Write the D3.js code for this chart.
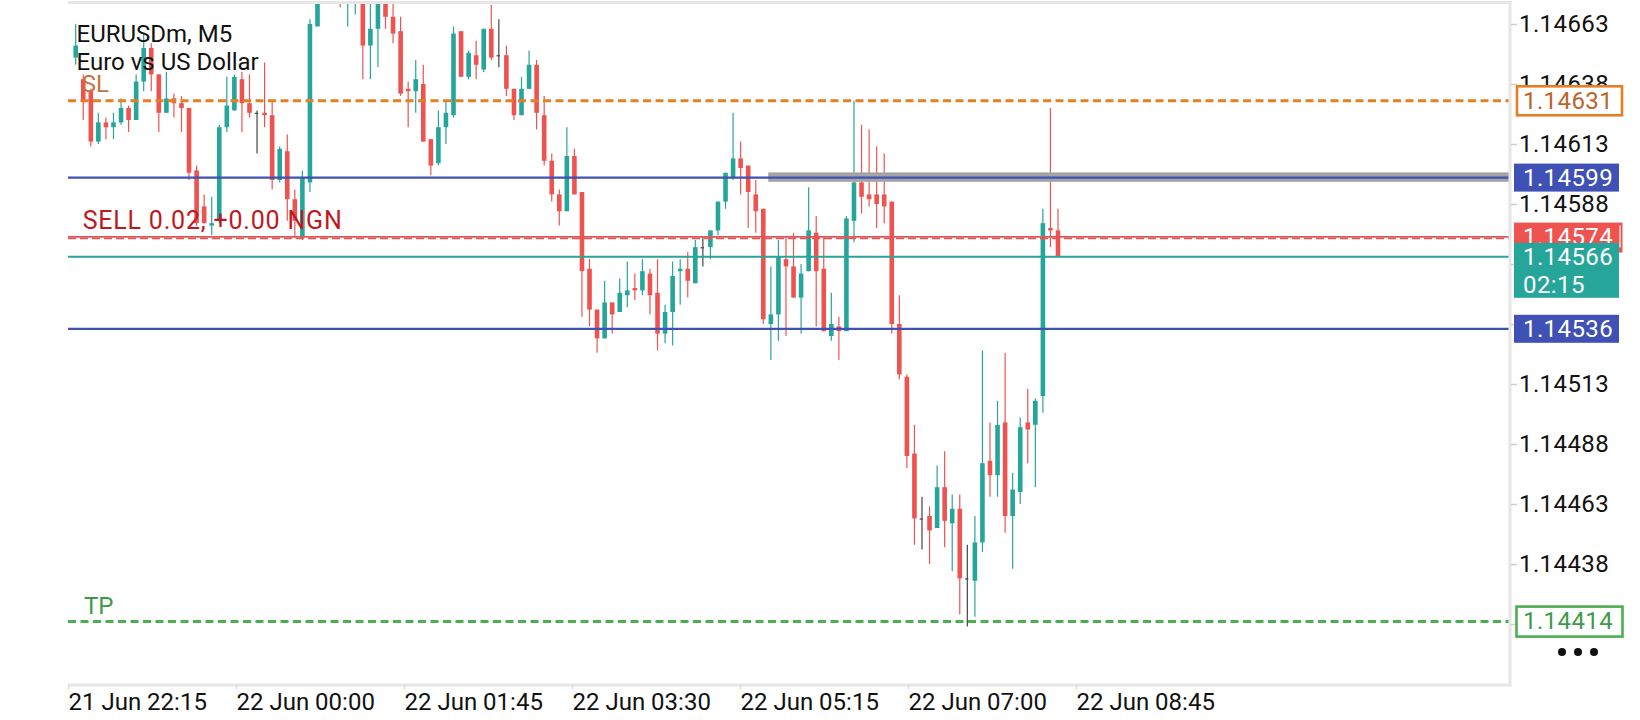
<!DOCTYPE html>
<html>
<head>
<meta charset="utf-8">
<script src="https://cdn.jsdelivr.net/npm/d3@7"></script>
<style>
  html, body { margin: 0; padding: 0; background: #fff; }
  svg text { font-family: Roboto, "Noto Sans", sans-serif; }
</style>
</head>
<body>
<svg id="chart" width="1640" height="720"></svg>
<script>
// M5 bars, oldest first
const opens = [
  1.14649, 1.14640, 1.14635, 1.14614, 1.14622, 1.14620, 1.14622, 1.14628, 1.14623, 1.14639,
  1.14653, 1.14642, 1.14626, 1.14632, 1.14630, 1.14628, 1.14602, 1.14587, 1.14579, 1.14581,
  1.14620, 1.14627, 1.14640, 1.14630, 1.14626, 1.14626, 1.14625, 1.14598, 1.14610, 1.14590,
  1.14574, 1.14597, 1.14662, 1.14675, 1.14685, 1.14680, 1.14674, 1.14676, 1.14688, 1.14654,
  1.14661, 1.14675, 1.14666, 1.14660, 1.14636, 1.14635, 1.14638, 1.14615, 1.14605, 1.14620,
  1.14625, 1.14660, 1.14641, 1.14650, 1.14644, 1.14661, 1.14650, 1.14650, 1.14636, 1.14625,
  1.14636, 1.14646, 1.14625, 1.14606, 1.14592, 1.14585, 1.14608, 1.14593, 1.14561, 1.14544,
  1.14532, 1.14547, 1.14543, 1.14550, 1.14553, 1.14552, 1.14559, 1.14551, 1.14534, 1.14543,
  1.14560, 1.14561, 1.14555, 1.14570, 1.14570, 1.14577, 1.14589, 1.14599, 1.14607, 1.14604,
  1.14592, 1.14586, 1.14538, 1.14542, 1.14565, 1.14562, 1.14549, 1.14560, 1.14576, 1.14561,
  1.14533, 1.14537, 1.14535, 1.14581, 1.14597, 1.14592, 1.14592, 1.14592, 1.14589, 1.14538,
  1.14516, 1.14484, 1.14457, 1.14458, 1.14453, 1.14470, 1.14455, 1.14461, 1.14432, 1.14431,
  1.14447, 1.14481, 1.14475, 1.14497, 1.14458, 1.14468, 1.14497, 1.14496, 1.14508, 1.14578,
  1.14577
];
const highs = [
  1.14663, 1.14642, 1.14636, 1.14626, 1.14624, 1.14626, 1.14632, 1.14629, 1.14642, 1.14659,
  1.14655, 1.14642, 1.14643, 1.14634, 1.14633, 1.14628, 1.14604, 1.14592, 1.14591, 1.14621,
  1.14641, 1.14642, 1.14643, 1.14642, 1.14627, 1.14647, 1.14631, 1.14612, 1.14617, 1.14594,
  1.14602, 1.14665, 1.14678, 1.14690, 1.14692, 1.14683, 1.14688, 1.14693, 1.14690, 1.14673,
  1.14679, 1.14677, 1.14672, 1.14666, 1.14639, 1.14648, 1.14646, 1.14615, 1.14627, 1.14631,
  1.14662, 1.14660, 1.14652, 1.14656, 1.14661, 1.14671, 1.14665, 1.14654, 1.14636, 1.14641,
  1.14652, 1.14648, 1.14633, 1.14609, 1.14594, 1.14620, 1.14611, 1.14593, 1.14565, 1.14544,
  1.14556, 1.14547, 1.14557, 1.14564, 1.14559, 1.14565, 1.14561, 1.14565, 1.14546, 1.14564,
  1.14565, 1.14568, 1.14573, 1.14574, 1.14577, 1.14589, 1.14601, 1.14626, 1.14614, 1.14604,
  1.14598, 1.14586, 1.14562, 1.14573, 1.14574, 1.14576, 1.14563, 1.14595, 1.14583, 1.14574,
  1.14551, 1.14541, 1.14583, 1.14631, 1.14621, 1.14619, 1.14612, 1.14609, 1.14589, 1.14550,
  1.14517, 1.14496, 1.14466, 1.14462, 1.14479, 1.14485, 1.14467, 1.14467, 1.14446, 1.14458,
  1.14527, 1.14497, 1.14506, 1.14526, 1.14476, 1.14499, 1.14511, 1.14507, 1.14586, 1.14628,
  1.14586
];
const lows = [
  1.14646, 1.14623, 1.14612, 1.14613, 1.14615, 1.14615, 1.14621, 1.14618, 1.14623, 1.14635,
  1.14635, 1.14618, 1.14626, 1.14624, 1.14618, 1.14598, 1.14579, 1.14580, 1.14575, 1.14580,
  1.14618, 1.14627, 1.14618, 1.14624, 1.14609, 1.14620, 1.14594, 1.14597, 1.14581, 1.14574,
  1.14573, 1.14593, 1.14662, 1.14673, 1.14676, 1.14670, 1.14662, 1.14667, 1.14640, 1.14640,
  1.14645, 1.14661, 1.14655, 1.14633, 1.14620, 1.14626, 1.14614, 1.14600, 1.14604, 1.14613,
  1.14624, 1.14641, 1.14640, 1.14640, 1.14643, 1.14648, 1.14645, 1.14633, 1.14623, 1.14625,
  1.14636, 1.14619, 1.14604, 1.14589, 1.14579, 1.14585, 1.14592, 1.14541, 1.14537, 1.14526,
  1.14532, 1.14534, 1.14543, 1.14545, 1.14548, 1.14550, 1.14542, 1.14527, 1.14530, 1.14529,
  1.14546, 1.14549, 1.14555, 1.14562, 1.14565, 1.14575, 1.14586, 1.14598, 1.14592, 1.14578,
  1.14576, 1.14538, 1.14523, 1.14531, 1.14533, 1.14549, 1.14534, 1.14560, 1.14537, 1.14535,
  1.14531, 1.14523, 1.14535, 1.14572, 1.14584, 1.14587, 1.14578, 1.14580, 1.14534, 1.14515,
  1.14478, 1.14446, 1.14444, 1.14438, 1.14453, 1.14445, 1.14435, 1.14417, 1.14412, 1.14416,
  1.14443, 1.14466, 1.14466, 1.14451, 1.14436, 1.14463, 1.14480, 1.14470, 1.14501, 1.14570,
  1.14566
];
const closes = [
  1.14654, 1.14631, 1.14614, 1.14622, 1.14620, 1.14622, 1.14628, 1.14623, 1.14639, 1.14653,
  1.14642, 1.14626, 1.14632, 1.14630, 1.14628, 1.14601, 1.14580, 1.14580, 1.14580, 1.14620,
  1.14629, 1.14641, 1.14630, 1.14626, 1.14626, 1.14625, 1.14598, 1.14611, 1.14590, 1.14581,
  1.14599, 1.14663, 1.14675, 1.14685, 1.14680, 1.14674, 1.14684, 1.14690, 1.14654, 1.14661,
  1.14675, 1.14666, 1.14659, 1.14634, 1.14635, 1.14640, 1.14614, 1.14604, 1.14620, 1.14626,
  1.14659, 1.14641, 1.14651, 1.14646, 1.14661, 1.14649, 1.14650, 1.14636, 1.14625, 1.14636,
  1.14646, 1.14626, 1.14606, 1.14592, 1.14585, 1.14608, 1.14592, 1.14560, 1.14544, 1.14532,
  1.14547, 1.14542, 1.14551, 1.14552, 1.14552, 1.14560, 1.14550, 1.14534, 1.14543, 1.14558,
  1.14561, 1.14556, 1.14570, 1.14570, 1.14577, 1.14589, 1.14601, 1.14607, 1.14603, 1.14593,
  1.14585, 1.14540, 1.14542, 1.14566, 1.14562, 1.14549, 1.14559, 1.14577, 1.14560, 1.14535,
  1.14538, 1.14535, 1.14582, 1.14597, 1.14591, 1.14590, 1.14588, 1.14587, 1.14538, 1.14517,
  1.14483, 1.14457, 1.14457, 1.14452, 1.14470, 1.14456, 1.14461, 1.14432, 1.14432, 1.14447,
  1.14480, 1.14475, 1.14496, 1.14458, 1.14469, 1.14495, 1.14494, 1.14506, 1.14580, 1.14577,
  1.14566
];

const timeLabels = ["21 Jun 22:15", "22 Jun 00:00", "22 Jun 01:45", "22 Jun 03:30",
                    "22 Jun 05:15", "22 Jun 07:00", "22 Jun 08:45"];
const priceTicks = [1.14663, 1.14638, 1.14613, 1.14588, 1.14563, 1.14538,
                    1.14513, 1.14488, 1.14463, 1.14438, 1.14413];

// trade levels
const slPrice = 1.14631;
const tpPrice = 1.14414;
const entryPrice = 1.14574;
const bidPrice = 1.14566;
const upperLevel = 1.14599;
const lowerLevel = 1.14536;
const titleLines = ["EURUSDm, M5", "Euro vs US Dollar"];
const orderText = "SELL 0.02, +0.00 NGN";
const barTimer = "02:15";

// layout
const W = 1640, H = 720;
const plot = { left: 68, right: 1510, top: 4, bottom: 685 };
const bull = "#26a69a", bear = "#ef5350", dojiCol = "#444";
const blue = "#3f51b5", orange = "#e67e22", green = "#4caf50";

const svg = d3.select("#chart");
svg.append("rect").attr("width", W).attr("height", H).attr("fill", "#fff");

const y = d3.scaleLinear().domain([priceTicks[0], priceTicks[priceTicks.length - 1]]).range([24, 624]);
const x = d3.scaleLinear().domain([0, closes.length - 1]).range([75.7, 1058]);
const xt = d3.scalePoint().domain(timeLabels).range([68, 1076]);

svg.append("defs").append("clipPath").attr("id", "clip")
  .append("rect")
  .attr("x", plot.left).attr("y", plot.top)
  .attr("width", plot.right - plot.left).attr("height", plot.bottom - plot.top);

const g = svg.append("g").attr("clip-path", "url(#clip)");

const bars = closes.map((c, i) => ({ i, o: opens[i], h: highs[i], l: lows[i], c }));
const colorOf = d => d.c > d.o ? bull : (d.c < d.o ? bear : dojiCol);
const bw = 4.6;

// candles
g.selectAll("line.wick").data(bars).join("line")
  .attr("class", "wick")
  .attr("x1", d => x(d.i)).attr("x2", d => x(d.i))
  .attr("y1", d => y(d.h)).attr("y2", d => y(d.l))
  .attr("stroke", colorOf).attr("stroke-width", 1.2);

g.selectAll("rect.body").data(bars).join("rect")
  .attr("class", "body")
  .attr("x", d => x(d.i) - bw / 2)
  .attr("y", d => y(Math.max(d.o, d.c)))
  .attr("width", d => d.o === d.c ? 3.4 : bw)
  .attr("height", d => Math.max(1.2, Math.abs(y(d.o) - y(d.c))))
  .attr("fill", colorOf);

// level lines
function hline(price, color, w, dash, dy = 0) {
  g.append("line")
    .attr("x1", plot.left).attr("x2", plot.right)
    .attr("y1", y(price) + dy).attr("y2", y(price) + dy)
    .attr("stroke", color).attr("stroke-width", w)
    .attr("stroke-dasharray", dash);
}
hline(slPrice, orange, 3, "8,4.5");
g.append("rect")
  .attr("x", x(91.65)).attr("width", plot.right - x(91.65))
  .attr("y", y(upperLevel) - 5.2).attr("height", 9.4)
  .attr("fill", "#a3a3a3");
hline(upperLevel, blue, 2.3, null);
hline(entryPrice, "#e25555", 1.7, null, -0.8);
hline(entryPrice, "#e25555", 1.7, "8,4", 0.9);
hline(bidPrice, bull, 2, null);
hline(lowerLevel, blue, 2.3, null);
hline(tpPrice, green, 3, "8,4.5");

// frame
const frame = svg.append("g").attr("stroke", "#e6e6e6").attr("stroke-width", 3);
frame.append("line").attr("x1", plot.left).attr("x2", plot.right + 1.5).attr("y1", 2.5).attr("y2", 2.5);
frame.append("line").attr("x1", plot.right).attr("x2", plot.right).attr("y1", 1).attr("y2", plot.bottom + 1.5);
frame.append("line").attr("x1", plot.left).attr("x2", plot.right + 1.5).attr("y1", plot.bottom).attr("y2", plot.bottom);

// price tags on the right: [price, top offset, height]
const tagSpans = [
  [slPrice, -14.5, 29], [upperLevel, -14, 28], [entryPrice, -15, 30],
  [bidPrice, -14, 55], [lowerLevel, -14, 28], [tpPrice, -15, 30]
];
const hiddenByTag = p => tagSpans.some(([tp, off, h]) => {
  const t = y(tp) + off;
  return y(p) - 8 > t && y(p) + 8 < t + h;
});

// price axis (labels fully covered by a tag are left out, as in the app)
const yAxis = svg.append("g")
  .attr("transform", `translate(${plot.right + 1},0)`)
  .call(d3.axisRight(y).tickValues(priceTicks).tickSize(6).tickPadding(2)
    .tickFormat(d => hiddenByTag(d) ? "" : d.toFixed(5)));
yAxis.select(".domain").remove();
yAxis.selectAll(".tick line").attr("stroke", "#cfcfcf").attr("stroke-width", 1.5);
yAxis.selectAll(".tick text")
  .attr("fill", "#111").attr("font-size", 24).attr("letter-spacing", 0.4);
yAxis.selectAll(".tick text").filter(function () { return this.textContent === ""; }).remove();

// time axis
const xAxis = svg.append("g")
  .attr("transform", `translate(0,${plot.bottom})`)
  .call(d3.axisBottom(xt).tickSize(4).tickFormat(d => d));
xAxis.select(".domain").remove();
xAxis.selectAll(".tick line").attr("stroke", "#dcdcdc").attr("stroke-width", 1.5);
xAxis.selectAll(".tick text")
  .attr("fill", "#111").attr("font-size", 24)
  .attr("text-anchor", "start").attr("dy", null)
  .attr("x", 0).attr("y", 25);

// chart texts
const txt = svg.append("g").attr("font-size", 24);
txt.append("text").attr("x", 81.7).attr("y", 91.7).attr("fill", "#c0763c").text("SL");
txt.append("text").attr("x", 84).attr("y", 613.5).attr("fill", "#3a9a48").text("TP");
txt.append("text").attr("x", 82.7).attr("y", 228.5).attr("fill", "#c0181f")
  .attr("font-size", 25).attr("letter-spacing", 0.8).text(orderText);
txt.selectAll("text.title").data(titleLines).join("text")
  .attr("class", "title")
  .attr("x", 76.5).attr("y", (d, i) => 41.7 + i * 27.8)
  .attr("fill", "#111").text(d => d);

const tags = svg.append("g").attr("font-size", 24).attr("letter-spacing", 0.4);
function tag(span, fill, stroke, textCol, x0, w, lines) {
  const [price, off, h] = span;
  const t = y(price) + off;
  tags.append("rect").attr("x", x0).attr("y", t).attr("width", w).attr("height", h)
    .attr("fill", fill).attr("stroke", stroke).attr("stroke-width", stroke ? 2.6 : 0);
  lines.forEach((s, k) => {
    tags.append("text").attr("x", 1523).attr("y", t + 14 + k * 28).attr("dy", "0.35em")
      .attr("fill", textCol).text(s);
  });
}
tag(tagSpans[0], "#fff", orange, "#b9652c", 1517, 105, [slPrice.toFixed(5)]);
tag(tagSpans[1], blue, null, "#fff", 1514, 105, [upperLevel.toFixed(5)]);
tag(tagSpans[2], bear, null, "#fff", 1514, 108.5, [entryPrice.toFixed(5)]);
tags.append("line").attr("x1", 1620).attr("x2", 1620)
  .attr("y1", y(entryPrice) - 12).attr("y2", y(entryPrice) + 10)
  .attr("stroke", "#fff").attr("stroke-width", 1.2);
tag(tagSpans[3], bull, null, "#fff", 1514, 105, [bidPrice.toFixed(5), barTimer]);
tag(tagSpans[4], blue, null, "#fff", 1514, 105, [lowerLevel.toFixed(5)]);
tag(tagSpans[5], "#fff", green, "#3f9a4a", 1516.5, 106, [tpPrice.toFixed(5)]);

// menu dots
svg.append("g").selectAll("circle").data([0, 1, 2]).join("circle")
  .attr("cx", d => 1562 + d * 16).attr("cy", 652).attr("r", 4).attr("fill", "#111");
</script>
</body>
</html>
